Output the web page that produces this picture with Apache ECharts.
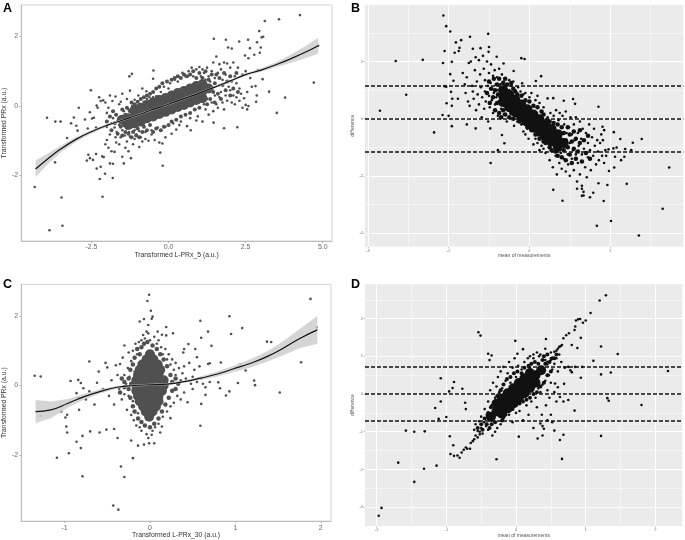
<!DOCTYPE html>
<html><head><meta charset="utf-8">
<style>html,body{margin:0;padding:0;background:#fff}#c{width:685px;height:540px}</style>
<script src="https://cdn.jsdelivr.net/npm/echarts@6/dist/echarts.min.js"></script>
</head><body><div id="c"></div>
<script>
const sparseA=[[4.26,2.61],[3.58,2.49],[3.12,2.44],[2.94,2.15],[3.07,1.99],[3.02,1.97],[1.47,1.93],[1.86,1.9],[2.29,1.85],[2.58,1.9],[2.87,1.83],[1.93,1.68],[2.05,1.65],[2.99,1.68],[2.96,1.53],[2.64,1.66],[2.48,1.45],[2.78,1.47],[2.59,1.37],[4.85,1.73],[4.71,.67],[3.78,.24],[3.26,.41],[3.51,-.2],[3.05,.77],[2.86,.3],[2.82,.57],[2.84,.12],[2.59,0],[2.23,-.61],[1.8,-.64],[1.46,-.48],[-.19,-1.72],[-.27,-1.34],[-.49,1.02],[-1.19,.92],[-1.27,.85],[-2.52,.45],[-2.91,-.05],[-3.94,-.34],[-3.67,-.45],[-3.5,-.45],[-3.16,-.5],[-3.07,-.33],[-3.29,-.92],[-2.99,-.57],[-2.95,-.71],[-4.34,-2.33],[-3.47,-2.63],[-3.86,-3.57],[-3.44,-3.44],[-2.14,-2.61],[-2.23,-2.1],[-2.06,-1.95],[-1.81,-2.07],[-3.68,-1.62],
[-2.71,-.39],[-2.62,-.65],[-2.55,-.18],[-2.48,-.36],[-2.42,-.34],[-2.35,-.62],[-2.33,.01],[-2.3,-.05],[-2.25,.25],[-2.2,.14],[-2.12,.16],[-2.05,.1],[-2,-.2],[-1.95,-.05],[-1.9,.3],[-1.82,.14],[-1.72,.27],[-1.6,.05],[-1.55,.12],[-1.5,.35],[-1.35,.2],[-1.25,.44],[-1.1,.18],[-.98,.3],[-.85,.5],[-.72,.42],[-.62,.25],[-.5,.78],
[-2.65,-1.57],[-2.6,-1.4],[-2.55,-1.5],[-2.45,-1.55],[-2.35,-1.38],[-2.33,-1.8],[-2.2,-1.75],[-2.15,-1.45],[-2.1,-1.47],[-2.05,-1.1],[-2,-.98],[-1.95,-1.2],[-1.9,-1.65],[-1.85,-1.3],[-1.8,-1.66],[-1.75,-1.32],[-1.7,-1.05],[-1.68,-.75],[-1.6,-1.1],[-1.55,-.9],[-1.5,-1.46],[-1.45,-1.65],[-1.4,-1.2],[-1.35,-1.02],[-1.3,-1.3],[-1.25,-.88],[-1.22,-1.5],[-1.15,-1.1],[-1.1,-.95],[-1.05,-.82],[-.95,-1.18],[-.9,-.9],[-.85,-1.02],[-.75,-.95],[-.65,-1],[-.55,-.82],[-.45,-.98],[-.3,-1.05],[-.2,-1.08],[-.1,-.9],[.1,-.8],[.25,-.68],[.35,-.55],[.6,-.58],[.72,-.7],[.9,-.42],[1.1,-.45],
[-2,-.6],[-1.9,-.82],[-1.85,-.5],[-1.8,-.35],[-1.75,-.62],[-1.72,-.9],[-1.65,-.42],[-1.6,-.55],[-1.55,-.3],[-1.5,-.7],[-1.45,-.15],[-1.42,-.85],[-1.4,-.45],[-1.35,-.65],[-1.3,-.1],[-1.28,-.75],[-1.2,-.6],[-1.18,0],[-1.1,-.7],[-1.02,-.05],[-.95,-.72],[-.9,.05],[-.8,.12],[-.75,-.75],[-.7,.2],[-.6,.12],[-.55,-.7],[-.5,.25],[-.4,.28],[-.35,-.62],[-.25,.4],[-.15,.55],[-.1,-.6],[0,.5],[.05,.65],[.15,-.5],[.2,.75],[.3,.7],[.4,-.45],[.45,.95],[.55,.85],[.65,1],[.7,-.35],[.75,1.1],[.8,.85],[.9,1.05],[.95,-.3],[1,1.12],[1.05,.85],[1.1,1.05],
[1.15,.95],[1.2,.75],[1.25,1.1],[1.3,.85],[1.35,.7],[1.4,1],[1.45,1.25],[1.5,.8],[1.55,1.42],[1.6,.95],[1.65,.6],[1.65,1.2],[1.7,1.05],[1.75,.75],[1.8,1.25],[1.85,.9],[1.9,1.22],[1.95,.55],[2,1.1],[2.05,.7],[2.1,1.25],[2.15,.85],[2.2,.65],[2.25,1.1],[2.3,.5],[2.4,.9],[2.5,1],[2.55,.4],[2.65,.8],[2.7,.55],[2.9,1.03],
[1.15,.05],[1.2,-.1],[1.25,.2],[1.3,-.25],[1.4,.1],[1.45,-.15],[1.5,.3],[1.55,.05],[1.6,-.05],[1.65,.25],[1.7,.4],[1.75,.1],[1.8,-.1],[1.85,.3],[1.9,.15],[2,.45],[2.05,.1],[2.1,.3],[2.15,.05],[2.2,.25],[2.3,.15],[2.35,.35],[2.4,-.05],[2.45,.22],[2.5,.03],[2.55,-.1]];
const midA=[[-2,-.45],[-1.9,-.3],[-1.85,-.7],[-1.8,-.15],[-1.75,-.5],[-1.7,-.25],[-1.65,-.8],[-1.6,-.35],[-1.55,-.6],[-1.5,-.1],[-1.5,-.85],[-1.45,-.55],[-1.4,-.25],[-1.4,-.75],[-1.35,-.05],[-1.3,-.8],[-1.25,-.15],[-1.25,-.6],[-1.2,.1],[-1.2,-.9],[-1.15,-.75],[-1.1,.05],[-1.05,-.85],[-1,.12],[-1,-.65],[-.95,-.9],[-.9,.2],[-.85,-.75],[-.8,.25],[-.8,-.6],[-.7,.3],[-.7,-.7],[-.6,.35],[-.6,-.55],[-.5,.4],[-.5,-.75],[-.4,.5],[-.4,-.65],[-.3,.55],[-.25,-.7],[-.2,.65],[-.15,-.6],[-.05,.7],[0,-.55],[.1,.75],[.1,-.45],[.2,.8],[.25,-.4],[.3,.85],[.4,-.3],[.4,.8],[.5,.9],[.55,-.25],[.6,.85],[.7,-.2],[.7,.9],[.8,1],[.85,-.1],[.9,.8],[1,.95],[1,-.05],[1.1,.8],[1.15,.2],[1.2,1],[1.25,.05],[1.3,.75],[1.35,.2],[1.4,.9],[1.45,.4],[1.5,.1],[1.5,.65],[1.55,.9],[1.6,.35],[1.65,.8],[1.7,.2],[1.75,.6],[1.8,.95],[1.85,.45],[1.9,.7],[2,.3],[2,.85],[2.1,.5],[2.2,.95],[2.25,.4]];
const denseA=[[-1.5,-.4],[-1.3,-.35],[-1.1,-.3],[-.9,-.25],[-.7,-.15],[-.5,-.1],[-.3,-.03],[-.1,.03],[.1,.1],[.3,.17],[.5,.23],[.7,.3],[.9,.37],[1.1,.42],[1.3,.5],
[-1.1,-.12],[-.9,-.05],[-.7,.03],[-.5,.1],[-.3,.17],[-.1,.23],[.1,.3],[.3,.37],[.5,.43],[.7,.5],[.9,.57],[1.1,.62],
[-1.3,-.55],[-1.1,-.5],[-.9,-.45],[-.7,-.35],[-.5,-.3],[-.3,-.23],[-.1,-.17],[.1,-.1],[.3,-.03],[.5,.03],[.7,.1],[.9,.17],[1.1,.22]];
const curveXA=[-4.31,-4,-3.5,-3,-2.5,-2,-1.5,-1,-.5,0,.5,1,1.5,2,2.5,3,3.5,4,4.5,4.85];
const curveYA=[-1.81,-1.58,-1.24,-.96,-.74,-.56,-.41,-.26,-.1,.05,.21,.37,.54,.72,.9,1.03,1.19,1.37,1.57,1.73];
const bandA=[.24,.17,.1,.07,.05,.04,.03,.03,.03,.03,.03,.03,.03,.04,.04,.05,.07,.12,.18,.23];

const sparseB=[[-2.13,3.61],[-2.06,3.24],[-1.96,3.05],[-1.47,2.87],[-1.02,2.97],[-1.69,2.75],[-1.82,2.67],[-1.73,2.48],[-1,2.51],[-2.1,2.37],[-3.31,2.02],[-2.64,2.06],[-2.14,1.95],[-1.92,1.99],[-1.85,2.31],[-1.75,2.37],[-1.4,2.45],[-1.21,2.47],[-1.01,2.34],[-.2,2.12],[-.12,2.09],[-3.05,.84],[-3.7,.28],[-2.36,-.48],[-1.92,-.26],[-2.15,.13],[-2,.1],[-2.05,.54],[-1.92,.45],[-1.91,.7],[-2.06,1.12],[-2.1,1.14],[-1.96,1.56],[-1.88,1.33],[-1.94,.94],[-1.77,.7],[-.96,-1.55],[-1.55,-.2],[-1.33,-.34],[-.97,-.34],[-.78,-1.1],[-.68,-.57],[-.62,-.86],[3.46,-1.71],[3.3,-3.15],[2.71,-4.09],[1.67,-3.75],[2.02,-3.58],[1.84,-2.88],[1.93,-2.32],[1.71,-2.26],[2.41,-2.28],[1.97,-1.83],[.82,-2.87],[.59,-2.49],[1.58,-2.59],[1.5,-2.75],[1.34,-2.69],[1.3,-2.7],[1.34,-2.56],[1.3,-2.45],[1.18,-2.45],[2.78,-.71],[2.56,-.84],[2.25,-.71],[2.09,-.47],[1.85,-.4],[1.71,.42],[1.08,.69],[1.13,.52],[.85,.63],[.59,.72],[.29,1.49],[.16,1.32],[.45,.71],[-.39,1.67],[-.18,1.24],[-.64,1.93],[-.81,2.17],[2.08,-1.04],[1.96,-1.07],[2.16,-1.01],[2.37,-1.06],[2.52,-1.1],[2.35,-1.33],[2.27,-1.45],[2.12,-1.33],[2.1,-1.71],[1.81,-.28],
[-1.65,1.6],[-1.6,1.2],[-1.58,.9],[-1.55,1.45],[-1.52,.6],[-1.5,1.95],[-1.48,.45],[-1.45,2],[-1.42,1.15],[-1.4,.95],[-1.38,.7],[-1.35,1.7],[-1.33,2.15],[-1.32,.3],[-1.3,1.3],[-1.28,.85],[-1.25,2.05],[-1.25,.5],[-1.22,1.55],[-1.2,1.1],[-1.18,.05],[-1.17,.75],[-1.15,2.2],[-1.13,1.75],[-1.12,.35],[-1.1,.95],[-1.1,1.35],[-1.08,.6],[-1.05,2],[-1.03,1.15],[-1.02,-.1],[-1,.8],[-1,1.6],[-.98,.4],[-.96,1.25],[-.95,1.9],[-.93,.65],[-.92,1.05],[-.9,.2],[-.9,1.5],[-.88,.9],[-.86,1.7],[-.85,.5],[-.83,1.2],[-.82,.75],[-.8,1],[-.8,1.45],[-.78,.1],[-.76,.6],[-.75,1.75],[-.74,.85],[-.72,1.2],[-.7,.35],[-.7,1],[-.68,1.55],[-.66,.7],[-.64,1.3],[-.63,.15],[-.62,.95],[-.6,1.15],[-.6,.45],[-.58,1.4],[-.56,-.1],[-.55,.65],[-.54,1.2],[-.52,.3],[-.5,1],[-.5,1.35],[-.48,.05],[-.46,.6],[-.45,1.15],[-.42,.85],[-.4,.15],[-.4,1.3],[-.38,-.25],[-.36,1],[-.34,.4],[-.32,.9],[-.3,-.1],[-.28,1.1],[-.25,.05],[-.22,.95],[-.2,-.2],[-.15,.85],[-.1,.9],[-.05,-.35],[0,.75],[.05,.9],[.1,-.45],[.15,.65],[.2,.8],[.25,.55],[.3,-.6],[.35,.4],
[.4,-1.2],[.45,.05],[.48,-.9],[.5,-1.45],[.52,.2],[.55,-1.1],[.58,-1.7],[.6,.1],[.62,-.85],[.65,-1.3],[.66,.3],[.68,-1.95],[.7,-1],[.72,-.05],[.74,-1.55],[.75,.2],[.78,-1.2],[.8,-.7],[.8,-1.75],[.82,.1],[.85,-1.4],[.86,-.2],[.88,-1],[.9,-1.85],[.9,.25],[.92,-.5],[.95,-1.25],[.96,-1.6],[.98,-.3],[1,-.85],[1,-2],[1.02,.05],[1.05,-1.4],[1.05,-.55],[1.08,-1.1],[1.1,-1.8],[1.1,-.2],[1.12,-.75],[1.15,.05],[1.15,-1.25],[1.18,-2.2],[1.2,-.5],[1.2,-1.55],[1.22,-.95],[1.25,-.1],[1.25,-1.95],[1.28,-.7],[1.3,-1.25],[1.3,-2.35],[1.32,-.35],[1.35,-1.05],[1.38,-1.7],[1.4,-.5],[1.42,-2.05],[1.45,-.85],[1.45,-1.35],[1.48,-.2],[1.5,-1.1],[1.52,-1.8],[1.55,-.65],[1.58,-1.3],[1.6,-.35],[1.62,-.95],[1.65,-1.6],[1.68,-.75],[1.7,-1.15],[1.72,-1.45],[1.75,-.85],[1.78,-.55],[1.8,-1.3],[1.82,-.75],[1.85,-1.55],[1.88,-1.1],[1.9,-1.3],[.3,-.95],[.35,-1.05],[.2,-.85],[.25,-1.1],[.15,-.7],[.1,-.9],[-.1,-.55],[-.15,-.45],[-.02,-.7]];
const midB=[[-1.05,.9],[-1,1.3],[-.98,.55],[-.95,1.05],[-.9,.75],[-.88,1.4],[-.85,.3],[-.85,1],[-.8,.55],[-.8,1.2],[-.78,.85],[-.75,.2],[-.75,1.4],[-.72,.6],[-.7,1.05],[-.7,.05],[-.65,.3],[-.65,1.25],[-.6,1.4],[-.6,.15],[-.55,.4],[-.55,1.2],[-.5,.05],[-.45,1.25],[-.45,.2],[-.4,1.05],[-.4,0],[-.35,.95],[-.3,.1],[-.3,.85],[-.25,-.1],[-.2,.8],[-.15,-.15],[-.1,.65],[-.05,-.3],[0,.6],[.05,-.4],[.1,.45],[.15,-.55],[.2,.4],[.25,-.7],[.3,.25],[.35,-.8],[.35,.15],[.4,-.85],[.45,-.05],[.5,-1],[.5,-.1],[.55,-1.1],[.6,-.15],[.65,-1.15],[.7,-.2],[.7,-1.3],[.75,-1.05],[.8,-.3],[.8,-1.35],[.85,-.5],[.85,-1.1],[.9,-.75],[.9,-1.45],[.95,-.3],[.95,-1],[1,-.55],[1,-1.25],[1.05,-.8],[1.05,-1.55],[1.1,-1.05],[1.1,-.45],[1.15,-.7],[1.15,-1.4],[1.2,-1.15],[1.25,-.85],[1.25,-.4],[1.3,-1.5],[1.35,-.75],[1.4,-1.2],[1.45,-.6],[1.5,-1.4]];
const denseB=[[-.65,.8],[-.5,.62],[-.35,.45],[-.2,.28],[-.05,.11],[.1,-.07],[.25,-.24],[.4,-.41],[.55,-.58],[.7,-.76],
[-.65,1],[-.5,.84],[-.35,.67],[-.2,.5],[-.05,.33],[.1,.15],[.25,-.02],[.4,-.19],[.55,-.36],[.7,-.54],
[-.65,.58],[-.5,.4],[-.35,.23],[-.2,.06],[-.05,-.11],[.1,-.29],[.25,-.46],[.4,-.63],[.55,-.8],[.7,-.98],[.85,-.85]];

const sparseC=[[-.01,2.61],[-.03,2.43],[.01,2.15],[.03,1.98],[.02,1.92],[-.07,1.91],[-.12,1.84],[-.02,1.74],[-.04,1.55],[.09,1.55],[.19,1.68],[.14,1.46],[.19,1.44],[.27,1.5],[-.3,1.15],[1.88,2.49],[1.95,1.67],[.93,1.99],[.95,1.48],[1.08,1.65],[.59,1.86],[.6,1.37],[.68,1.55],[.72,1.14],[.45,1.19],[.53,1.05],[.4,1.05],[.39,.95],[1.37,1.26],[1.42,1.25],[1.77,.67],[1.52,-.2],[1.23,.01],[1.22,.14],[1.12,.43],[1.06,.61],[1.03,.07],[.83,.66],[.68,.62],[.7,.64],[.55,.81],[.59,-1.16],[.6,-.53],[.65,-.27],[.89,-.29],[.93,-.17],[.82,-.08],[.8,.09],[-1.35,.28],[-1.28,.26],[-1.28,-.87],[-1.09,-2.08],[-.95,-1.95],[-1.04,-.75],[-.99,-.92],[-.97,-.84],[-.98,-1.18],[-.97,-1.35],[-.86,-1.62],[-.81,-1.8],[-.79,-1.45],[-.79,-2.61],[-.7,-1.32],[-.59,-1.35],[-.51,-1.27],[-.42,-1.25],[-.38,-1.51],[-.34,-2.33],[-.3,-2.63],[-.2,-2.09],[-.22,-1.58],[-.14,-1.73],[-.43,-3.45],[-.37,-3.57],[-.93,.13],[-.84,.16],[-.81,.07],[-.86,-.22],[-.84,-.34],[-.83,-.7],[-.71,.69],[-.78,-.08],[-.71,-.17],[-.07,-1.7],[-.01,-1.66],[.05,-1.66],[-.02,-1.51],[.02,-1.42],[.14,-1.18],[.12,-1.35],[.24,-.94],
[-.6,.4],[-.55,-.1],[-.52,.65],[-.5,.52],[-.48,-.3],[-.45,.15],[-.42,-.55],[-.4,.58],[-.38,.3],[-.36,-.1],[-.35,.62],[-.33,-.4],[-.32,.8],[-.3,-.25],[-.3,.3],[-.28,.05],[-.27,-.7],[-.26,.5],[-.25,.95],[-.25,-.3],[-.24,.25],[-.22,-.85],[-.22,.7],[-.2,1],[-.2,-.45],[-.19,-1],[-.18,.4],[-.17,1.2],[-.16,-1.15],[-.15,.9],[-.14,-.8],[-.13,1.25],[-.12,-1.2],[-.1,1.3],[-.1,-1.3],[-.08,1.45],[-.06,1.35],[-.04,-1.4],[-.02,1.5],[0,1.3],[.03,-1.3],[.05,1.4],[.06,-1.2],[.08,1.2],[.1,-1.1],[.1,1.3],[.13,1.1],[.15,.9],[.15,-.9],[.18,1.05],[.2,.75],[.2,-.75],[.22,.9],[.24,.6],[.24,-.6],[.26,.75],[.28,.45],[.28,-.5],[.3,.3],[.3,.65],[.32,-.3],[.34,.5],[.36,.15],[.36,-.4],[.38,.35],[.4,-.2],[.4,.55],[.42,.2],[.44,-.48],[.46,.65],[.48,.05],[.5,.25],[.5,-.1],[.52,.45],[.55,.1],[.58,.55],[.6,.2],[.62,.05],[.65,-.05],[.7,.1],[-.65,-.55],[-.62,.08],[-.75,-.4]];
const midC=[[-.25,.2],[-.25,-.1],[-.23,.45],[-.23,-.35],[-.22,.05],[-.2,.6],[-.2,-.6],[-.18,.8],[-.18,-.75],[-.15,1.05],[-.14,-.95],[-.12,.9],[-.1,1.1],[-.1,-1.05],[-.07,1.2],[-.06,-1.15],[-.03,1.25],[0,-1.2],[.03,1.15],[.05,-1.1],[.08,1.05],[.1,-.95],[.12,.9],[.14,-.75],[.16,.75],[.18,-.55],[.2,.55],[.22,-.35],[.24,.3],[.26,.1],[.26,-.15],[.3,.2],[.3,-.1],[.33,.05],[-.3,.1],[-.3,-.05],[-.33,.2],[-.35,-.2]];
const denseC=[[0,.9],[-.04,.75],[.04,.75],[-.09,.6],[0,.6],[.09,.6],[-.12,.45],[-.04,.45],[.04,.45],[.12,.45],[-.14,.3],[-.06,.3],[.02,.3],[.1,.3],[-.16,.15],[-.08,.15],[0,.15],[.08,.15],[.16,.15],[-.16,0],[-.08,0],[0,0],[.08,0],[.16,0],[-.16,-.15],[-.08,-.15],[0,-.15],[.08,-.15],[.14,-.15],[-.14,-.3],[-.06,-.3],[.02,-.3],[.1,-.3],[-.12,-.45],[-.04,-.45],[.04,-.45],[.1,-.45],[-.08,-.6],[0,-.6],[.07,-.6],[-.05,-.75],[.03,-.75],[-.01,-.9]];
const curveXC=[-1.34,-1.16,-.96,-.77,-.58,-.38,-.19,.01,.2,.4,.59,.79,.98,1.18,1.37,1.56,1.76,1.96];
const curveYC=[-.75,-.7,-.51,-.32,-.17,-.05,0,.02,.04,.11,.21,.33,.48,.64,.83,1.07,1.36,1.6];
const bandC=[.33,.24,.12,.08,.06,.04,.03,.03,.03,.03,.05,.07,.09,.12,.15,.2,.28,.4];

const sparseD=[[1.29,2.62],[1.2,2.48],[1.07,2.15],[1,1.95],[.96,1.89],[.92,1.99],[.89,1.98],[.86,1.95],[.85,1.79],[.84,1.7],[.93,1.49],[.88,1.22],[.8,1.3],[.76,1.61],[.72,1.56],[.68,1.48],[1.22,1.26],[1.46,1.06],[1.11,.88],[1.22,.52],[1.36,.57],[2.18,.61],[1.8,-.29],[1.31,-.11],[1.33,-.18],[.93,.43],[1.22,-1.11],[.66,-1.72],[.63,-1.22],[.68,-1.08],[.55,-.97],[.31,-1.18],[.38,-1.1],[.04,-1.13],[-.28,-1.73],[.84,-.44],[.75,-.16],[.69,.27],[.56,.28],[-.54,1.64],[-.51,1.55],[-.01,1.41],[.1,1.19],[.02,1.07],[-.4,1.07],[-.35,1.02],[-.38,.9],[-1.08,.42],[-.89,.32],[-.91,.16],[-.96,.07],[-.77,.14],[-.73,-.23],[-.72,-.4],[-1.08,-.2],[-1.16,-.37],[-1,-.61],[-1.11,-.66],[-1.31,-.99],[-1.46,-1],[-1.58,-.97],[-.95,-1.12],[-.9,-1.36],[-.94,-1.59],[-.89,-1.64],[-.84,-1.63],[-.81,-1.69],[-1.14,-1.9],[-1.32,-1.98],[-1.46,-2.33],[-1.69,-1.82],[-1.93,-3.02],[-1.97,-3.23],
[-.78,-1.55],[-.75,-1.48],[-.72,-1.42],[-.7,-1.45],[-.66,-1.45],[-.65,-1.3],[-.62,-1.25],[-.6,-1.2],[-.58,-1.1],[-.55,-1.15],[-.52,-1.07],[-.52,-1],[.5,1.1],[.55,1.12],[.58,1.15],[.6,1.2],[.62,1.25],[.64,1.27],[.66,1.3],[.62,1.05],[.5,.95],[.45,.85],[.42,.9],[.4,1],[.35,1.05],[.3,1.1],[.25,1.05],[.2,1],[.42,1.2],[.43,1.46],
[-.6,-.95],[-.58,-.8],[-.55,-.98],[-.53,-.72],[-.5,-.9],[-.5,-.6],[-.48,-1.05],[-.46,-.75],[-.45,-.4],[-.43,-.85],[-.42,-.55],[-.4,-.2],[-.4,-.95],[-.38,-.7],[-.37,.1],[-.35,-.3],[-.34,-1.1],[-.33,.3],[-.3,-.1],[-.3,-1],[-.28,.2],[-.27,-.9],[-.26,.45],[-.25,-.05],[-.24,.05],[-.22,.6],[-.22,-.8],[-.2,.15],[-.18,.72],[-.18,-.65],[-.15,.35],[-.14,-.55],[-.12,.55],[-.1,.85],[-.1,-.55],[-.08,.3],[-.05,.7],[-.05,-.75],[-.02,.95],[0,-.5],[0,.45],[.03,.75],[.05,-.45],[.08,.65],[.1,-.7],[.12,.85],[.15,-.3],[.17,.95],[.18,-.55],[.2,.7],[.22,-.2],[.25,-.9],[.25,.95],[.28,-.1],[.3,-.35],[.32,.15],[.33,1],[.35,.05],[.37,-.55],[.38,.25],[.4,.6],[.42,.35],[.43,-.3],[.45,.78],[.45,.1],[.47,.5],[.5,.9],[.5,.3],[.52,.65],[.55,.8],[.55,.05],[.58,.95],[.6,.6],[.6,.18],[.63,-.08],[.65,.85],[.68,-.2],[.7,.7],[.45,-.7],[.5,-.55],[.52,-.75],[.38,-.85],[.4,-.92],[.35,-.78],[.58,-.2],[.48,-.1],[.75,.72],[.8,.58],[.78,.63],[.85,.72],[.95,.72]];
const midD=[[-.55,-.9],[-.5,-.8],[-.48,-.95],[-.45,-.65],[-.42,-.8],[-.4,-.5],[-.38,-.9],[-.36,-.35],[-.35,-.8],[-.32,-.6],[-.3,-.2],[-.3,-.75],[-.27,-.05],[-.25,-.55],[-.22,.1],[-.2,-.7],[-.18,.25],[-.15,-.45],[-.13,.4],[-.1,-.4],[-.08,.45],[-.05,-.4],[-.03,.55],[0,-.3],[.02,.6],[.05,-.25],[.08,.55],[.1,-.2],[.12,.7],[.15,-.15],[.18,.75],[.2,-.1],[.22,.8],[.25,0],[.27,.85],[.3,.05],[.32,.8],[.35,.2],[.38,.9],[.4,.3],[.42,.8],[.45,.5],[.48,.85],[.5,.6],[.52,.95],[.55,.95],[.58,1.05],[.4,1],[.45,1.05]];
const denseD=[[-.36,-.6],[-.28,-.46],[-.2,-.32],[-.12,-.18],[-.04,-.05],[.04,.09],[.12,.22],[.2,.36],[.28,.5],[.36,.63],
[-.28,-.26],[-.2,-.12],[-.12,.02],[-.04,.15],[.04,.29],[.12,.42],[.2,.56],
[-.2,-.52],[-.12,-.38],[-.04,-.25],[.04,-.11],[.12,.02],[.2,.16],[.28,.3]];

const limitsB=[1.15,0,-1.15];
const limitsD=[.72,0,-.72];
const panels=[
 {letter:'A',sparse:sparseA,mid:midA,midSize:4,dense:denseA,curveX:curveXA,curveY:curveYA,band:bandA,xName:'Transformed L-PRx_5 (a.u.)',yName:'Transformed PRx (a.u.)',xTicks:[-2.5,0,2.5,5],yTicks:[-2,0,2],xFmt:1,xMin:-4.78,xMax:5.3,yMin:-3.88,yMax:2.9,box:[20.5,5,311.5,236],lx:3,ly:2},
 {letter:'B',sparse:sparseB,mid:midB,midSize:4.5,dense:denseB,limits:limitsB,xName:'mean of measurements',yName:'difference',xTicks:[-4,-2,0,2],yTicks:[-4,-2,0,2],xMinor:[-3,-1,1,3],yMinor:[-3,-1,1,3],xMin:-4.07,xMax:3.81,yMin:-4.48,yMax:3.99,box:[365,4.7,318.3,242],lx:351,ly:2},
 {letter:'C',sparse:sparseC,mid:midC,midSize:4.5,dense:denseC,curveX:curveXC,curveY:curveYC,band:bandC,xName:'Transformed L-PRx_30 (a.u.)',yName:'Transformed PRx (a.u.)',xTicks:[-1,0,1,2],yTicks:[-2,0,2],xMin:-1.509,xMax:2.12,yMin:-3.9,yMax:2.91,box:[20,284.3,311,237],lx:3,ly:278},
 {letter:'D',sparse:sparseD,mid:midD,midSize:4,dense:denseD,limits:limitsD,xName:'mean of measurements',yName:'difference',xTicks:[-2,-1,0,1,2],yTicks:[-3,-2,-1,0,1,2],xMinor:[-1.5,-.5,.5,1.5],yMinor:[-2.5,-1.5,-.5,.5,1.5,2.5],xMin:-2.167,xMax:2.386,yMin:-3.5,yMax:2.91,box:[365,284.3,317.3,241.7],lx:351,ly:278}
];
const grid=[],xAxis=[],yAxis=[],series=[],graphic=[];
const FF='"Liberation Sans",Arial,sans-serif';
panels.forEach((p,i)=>{
 const gg=!p.limits;
 const [l,t,w,h]=p.box;
 grid.push({left:l,top:t,width:w,height:h,show:true,backgroundColor:gg?'#fff':'#ebebeb',borderWidth:gg?1:0,borderColor:'#d4d4d4'});
 const ax=(name,ticks,min,max,gap,rot,fmt)=>({type:'value',gridIndex:i,name,nameLocation:'middle',nameGap:gap,nameRotate:rot,
  nameTextStyle:{fontFamily:FF,fontSize:gg?6.8:5,color:gg?'#333':'#555'},min,max,scale:true,
  splitLine:{show:false},
  axisLine:{show:gg,onZero:false,lineStyle:{color:'#bdbdbd',width:1}},
  axisTick:{show:true,customValues:ticks,length:gg?2:1.5,lineStyle:{color:'#999',width:.6}},
  axisLabel:{customValues:ticks,fontFamily:FF,fontSize:gg?7:4,color:gg?'#666':'#777',margin:gg?3:2,formatter:v=>fmt?v.toFixed(fmt):String(v)}});
 xAxis.push(ax(p.xName,p.xTicks,p.xMin,p.xMax,gg?9:6,0,p.xFmt));
 yAxis.push(ax(p.yName,p.yTicks,p.yMin,p.yMax,gg?9:5,90));
 const base={xAxisIndex:i,yAxisIndex:i,silent:true,animation:false};
 if(!gg){
  const ml=(xs,ys,width)=>series.push({...base,type:'scatter',data:[],z:1,markLine:{z:1,silent:true,symbol:'none',animation:false,label:{show:false},lineStyle:{color:'#fff',width,type:'solid'},data:[...xs.map(v=>({xAxis:v})),...ys.map(v=>({yAxis:v}))]}});
  ml(p.xTicks,p.yTicks,1);
  ml(p.xMinor,p.yMinor,.5);
 }
 const col=gg?'#505050':'#111';
 const pts=(data,size)=>series.push({...base,type:'scatter',data,symbol:'circle',symbolSize:size,z:3,itemStyle:{color:col,opacity:1}});
 pts(p.dense,10);
 pts(p.mid,p.midSize);
 pts(p.sparse,2.6);
 if(gg){
  series.push({...base,type:'custom',data:[[p.curveX[0],p.curveY[0]]],z:4,clip:false,renderItem:(par,api)=>{
    const up=p.curveX.map((x,k)=>api.coord([x,p.curveY[k]+p.band[k]]));
    const lo=p.curveX.map((x,k)=>api.coord([x,p.curveY[k]-p.band[k]])).reverse();
    return {type:'polygon',shape:{points:up.concat(lo)},style:{fill:'#cfcfcf',opacity:.88}};
  }});
  series.push({...base,type:'line',smooth:true,showSymbol:false,z:5,data:p.curveX.map((x,k)=>[x,p.curveY[k]]),lineStyle:{color:'#111',width:1.2}});
 } else {
  series.push({...base,type:'scatter',data:[],z:6,markLine:{z:6,silent:true,symbol:'none',animation:false,label:{show:false},lineStyle:{color:'#111',width:1.6,type:[4,2]},data:p.limits.map(v=>({yAxis:v}))}});
 }
 graphic.push({type:'text',left:p.lx,top:p.ly,style:{text:p.letter,font:'bold 12.5px '+FF,fill:'#000'}});
});
const chart=echarts.init(document.getElementById('c'),null,{renderer:'canvas'});
chart.setOption({animation:false,backgroundColor:'#fff',grid,xAxis,yAxis,series,graphic});
</script></body></html>
